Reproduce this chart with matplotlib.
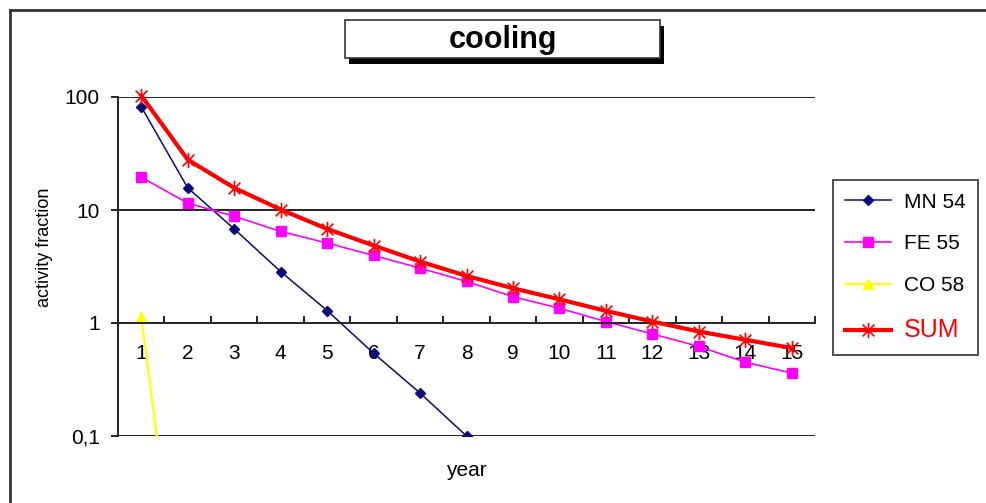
import matplotlib.pyplot as plt
from matplotlib.patches import Rectangle
from matplotlib.path import Path
from matplotlib.lines import Line2D

plt.rcParams['font.family'] = ['Liberation Sans', 'DejaVu Sans']

years = list(range(1, 16))
mn54 = [82, 15.7, 6.8, 2.85, 1.29, 0.54, 0.24, 0.10, 0.044]
fe55 = [19.5, 11.5, 8.8, 6.46, 5.1, 3.96, 3.06, 2.33, 1.71, 1.35, 1.03, 0.80, 0.62, 0.45, 0.36]
co58 = [1.14, 0.0008]
total = [103, 27.9, 15.7, 10.1, 6.8, 4.85, 3.5, 2.61, 2.03, 1.62, 1.28, 1.03, 0.84, 0.71, 0.60]
names = ['MN 54', 'FE 55', 'CO 58', 'SUM']

W, H = 987, 503
fig = plt.figure(figsize=(W / 100, H / 100), dpi=100)

def fx(px):
    return px / W

def fy(py):
    return 1 - py / H

# outer chart border (runs off the right/bottom edge like the screenshot)
fig.add_artist(Line2D([fx(10), 1.01], [fy(10), fy(10)], color='#333333', lw=2))
fig.add_artist(Line2D([fx(10), fx(10)], [fy(10), -0.01], color='#333333', lw=2))

ax = fig.add_axes([fx(118), fy(436), fx(815) - fx(118), fy(97) - fy(436)])

asterisk = Path([(-1, -1), (1, 1), (-1, 1), (1, -1), (0, -1.3), (0, 1.3)],
                [Path.MOVETO, Path.LINETO, Path.MOVETO, Path.LINETO, Path.MOVETO, Path.LINETO])

ax.plot(years[:len(mn54)], mn54, color='#0a0a78', lw=1.1, marker='D', ms=5, label=names[0])
ax.plot(years, fe55, color='#ff00ff', lw=1.2, marker='s', ms=6.5, label=names[1])
ax.plot(years[:len(co58)], co58, color='#ffff00', lw=1.5, marker='^', ms=7, label=names[2])
ax.plot(years, total, color='#ff0000', lw=3, marker=asterisk, ms=11, mew=1.2,
        label=names[3], clip_on=False, zorder=5)

ax.set_yscale('log')
ax.set_ylim(0.1, 100)
ax.set_xlim(0.5, 15.5)

for v in [0.1, 10, 100]:
    ax.axhline(v, color='#222222', lw=1.4, zorder=1)

for s in ['top', 'right']:
    ax.spines[s].set_visible(False)
ax.spines['bottom'].set_position(('data', 1))
ax.spines['bottom'].set_linewidth(1.4)
ax.spines['bottom'].set_color('#222222')
ax.spines['left'].set_linewidth(1.4)
ax.spines['left'].set_color('#222222')

ax.set_xticks(years)
ax.set_xticklabels([str(y) for y in years])
ax.set_xticks([y + 0.5 for y in years], minor=True)
ax.tick_params(axis='x', which='major', length=0, pad=15, labelsize=15)
ax.tick_params(axis='x', which='minor', length=5, direction='in', width=1.2)

ax.set_yticks([0.1, 1, 10, 100])
ax.set_yticklabels(['0,1', '1', '10', '100'])
ax.yaxis.set_minor_locator(plt.NullLocator())
ax.tick_params(axis='y', length=5, width=1.2, pad=8, labelsize=15)

fig.text(fx(45), fy(247), 'activity fraction', rotation=90, ha='center', va='center', fontsize=13)
fig.text(fx(466), fy(470), 'year', ha='center', va='center', fontsize=15)

# title box with shadow
fig.add_artist(Rectangle((fx(349), fy(64)), fx(660) - fx(345), fy(20) - fy(58),
                         facecolor='black', edgecolor='none', transform=fig.transFigure))
fig.add_artist(Rectangle((fx(345), fy(58)), fx(660) - fx(345), fy(20) - fy(58),
                         facecolor='white', edgecolor='#333333', lw=1.2, transform=fig.transFigure))
fig.text(fx(503), fy(40), 'cooling', ha='center', va='center', fontsize=22, fontweight='bold')

leg = ax.legend(loc='upper left', bbox_to_anchor=(fx(833), fy(180)), bbox_transform=fig.transFigure,
                frameon=True, fancybox=False, fontsize=15, handlelength=2.2, handletextpad=0.6,
                labelspacing=1.1, borderpad=0.6, borderaxespad=0)
leg.get_frame().set_edgecolor('#222222')
leg.get_frame().set_linewidth(1.4)
leg.texts[3].set_color('#ff0000')
leg.texts[3].set_fontsize(18)

fig.savefig('out.png', dpi=100)
